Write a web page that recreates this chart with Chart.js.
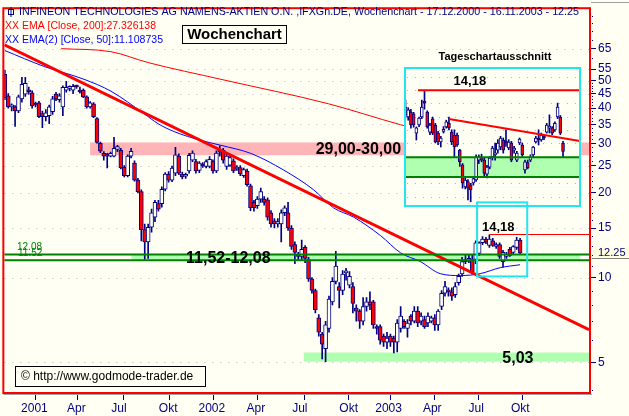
<!DOCTYPE html>
<html><head><meta charset="utf-8">
<script src="https://cdn.jsdelivr.net/npm/chart.js@4.4.0/dist/chart.umd.min.js"></script>
<style>
html,body{margin:0;padding:0;background:#FFFFF4;}
#wrap{position:relative;width:629px;height:416px;overflow:hidden;}
#main{position:absolute;left:0;top:0;}
#inset{position:absolute;left:404px;top:67px;}
</style></head><body>
<div id="wrap"><canvas id="main" width="629" height="416"></canvas><canvas id="inset" width="177" height="141"></canvas></div>
<script>
// ===== weekly candles (main chart), one per week from 17.12.2000 =====
const weekOpen = [52.7,44.2,40.4,40.4,39.1,43.1,44.8,46.0,45.3,41.1,
 41.7,38.2,37.3,37.6,38.8,44.8,42.8,40.4,46.3,47.0,
 46.3,47.8,46.3,46.3,43.8,40.4,41.4,36.7,30.0,27.6,
 27.2,27.0,27.0,28.5,28.3,24.7,23.0,27.0,25.5,22.2,
 20.2,14.8,13.4,15.1,16.4,18.3,18.3,20.6,23.3,22.2,
 23.5,27.0,23.3,22.9,23.9,26.1,25.8,24.0,25.2,24.8,
 24.8,25.8,23.9,28.3,28.3,24.8,25.1,26.0,24.3,24.6,
 23.0,23.9,21.2,18.5,18.0,19.0,19.0,18.9,17.0,15.9,
 15.5,15.5,17.0,17.0,15.0,13.1,12.1,11.9,12.8,11.6,
 9.9,9.0,7.2,6.3,5.6,6.6,8.2,9.7,9.3,9.0,
 10.4,9.4,9.3,7.8,7.6,7.0,7.9,8.2,8.2,6.7,
 6.7,6.2,5.9,6.2,6.1,5.9,6.6,7.0,6.6,7.3,
 7.0,7.6,7.0,7.1,6.9,7.0,7.2,6.8,7.9,8.8,
 9.0,8.9,8.7,9.6,10.3,11.4,11.5,11.6,11.6,12.2,
 13.3,13.7,13.0,13.5,12.9,13.1,11.4,11.9,12.6,12.3,
 12.8,13.6];
const weekHigh = [54.4,45.0,41.4,40.8,44.5,51.4,51.4,47.5,46.0,42.0,
 42.3,39.0,39.5,41.0,44.0,45.5,45.0,48.0,49.8,48.0,
 48.6,48.3,47.5,46.8,44.2,42.2,41.8,37.0,30.3,28.0,
 27.6,27.9,31.5,29.5,28.8,25.0,27.3,28.8,26.0,22.5,
 20.5,15.5,15.5,17.5,18.8,18.8,21.0,23.6,23.8,24.9,
 29.0,27.5,23.7,23.5,27.6,28.2,26.3,25.8,25.6,26.2,
 26.9,26.2,28.2,29.4,28.8,27.5,27.2,26.4,25.0,25.0,
 24.5,24.3,21.5,18.8,19.4,20.8,19.4,19.2,17.3,16.2,
 16.2,17.4,18.0,18.5,15.3,13.4,12.3,13.6,13.0,11.8,
 10.0,9.1,7.4,6.4,7.0,8.6,10.0,12.4,9.6,10.6,
 10.8,10.5,9.6,8.0,7.7,8.5,8.5,8.9,8.3,6.8,
 6.8,6.3,6.4,6.3,6.2,7.1,7.9,7.1,7.1,7.4,
 7.9,7.9,7.5,7.3,7.5,7.3,7.4,7.7,9.0,9.7,
 9.2,9.2,9.6,10.3,11.8,12.0,12.1,12.1,13.5,13.4,
 14.0,13.9,14.18,13.8,13.3,13.3,12.5,12.3,12.8,13.0,
 13.9,13.8];
const weekLow = [42.8,40.0,39.1,34.4,38.5,42.0,44.0,44.8,40.0,40.4,
 37.0,34.1,36.0,35.2,38.0,42.5,42.0,37.6,45.5,46.0,
 45.0,47.0,45.2,43.5,40.0,40.0,37.0,30.0,27.8,26.1,
 24.5,26.8,26.8,28.0,24.3,22.8,22.8,26.6,22.0,20.0,
 13.5,11.6,11.7,14.5,15.8,17.2,17.8,20.3,21.8,21.9,
 23.0,23.2,22.4,22.5,23.5,25.8,23.5,23.6,24.6,24.5,
 24.5,23.5,23.6,27.0,25.5,24.2,24.8,23.6,24.0,23.0,
 22.7,21.1,17.3,17.2,17.6,18.5,18.1,16.0,15.1,15.0,
 15.1,13.4,16.6,14.7,12.6,11.2,11.5,11.6,11.3,9.7,
 8.8,7.5,6.2,5.15,5.03,6.4,8.0,9.5,7.8,8.7,
 9.8,9.2,7.5,7.0,6.6,6.8,7.6,7.7,6.6,6.3,
 5.8,5.7,5.6,5.7,5.4,5.45,6.4,6.6,6.15,6.8,
 6.9,6.7,6.8,6.6,6.7,6.9,6.5,6.5,7.7,8.6,
 8.6,8.3,8.5,9.4,10.1,11.2,11.3,10.3,11.2,12.0,
 13.1,13.2,12.8,12.9,12.7,11.7,10.9,11.7,11.9,12.1,
 12.6,12.1];
const weekClose = [43.5,40.4,40.6,39.1,43.8,48.6,49.0,45.7,40.7,41.0,
 37.3,37.3,38.5,40.4,43.1,43.1,44.2,47.4,47.4,47.2,
 47.8,47.5,45.6,43.8,40.4,41.7,37.3,30.2,28.1,27.0,
 27.0,27.6,28.8,29.2,24.5,23.0,27.0,28.1,22.2,20.2,
 14.8,13.4,15.1,17.0,18.5,17.5,20.6,23.3,22.2,24.5,
 27.3,23.5,22.8,23.1,27.2,27.7,23.9,25.5,24.9,25.8,
 26.3,23.9,27.7,27.9,26.1,27.0,26.7,23.9,24.6,23.4,
 24.2,21.4,17.7,17.7,19.0,20.2,18.5,16.4,15.5,15.5,
 15.8,17.0,17.7,15.0,12.9,12.3,11.9,12.6,11.7,9.9,
 9.0,7.7,6.4,5.8,6.8,8.4,9.7,11.0,9.0,10.3,
 10.5,10.1,8.1,7.6,7.0,7.9,8.2,8.0,6.8,6.6,
 6.0,5.9,6.1,5.9,5.9,6.9,7.3,6.7,6.9,7.0,
 7.6,6.9,7.3,6.7,7.3,7.2,6.8,7.6,8.8,9.3,
 8.9,8.6,9.3,10.1,11.4,11.6,11.7,10.5,13.3,13.3,
 13.7,13.4,13.7,13.0,13.1,11.9,12.3,12.1,12.0,12.9,
 13.6,12.25];

// EMA 200 (red thin) and EMA 50 (blue) read at week positions
const ema200Week = [16.5, 31.1, 42, 63.3, 94.9, 116, 151];
const ema200Val  = [65.0, 63.4, 58.0, 50.6, 41.4, 34.9, 27.33];
const ema50Week  = [0, 11.5, 23.2, 31.1, 40.8, 44.9, 49.6, 57.5, 63.3, 72.1, 81.7, 90.5, 96.3, 102.2, 110.1, 116, 121.8, 127.6, 133.5, 139.3, 145.2, 151];
const ema50Val   = [64.0, 56.2, 50.6, 45.9, 38.2, 35.2, 33.0, 30.7, 29.5, 27.6, 24.1, 20.5, 17.7, 16.4, 14.1, 12.24, 11.4, 10.33, 10.17, 10.33, 10.85, 11.11];
// thick red downtrend line
const trendWeek = [-0.15, 171.2];
const trendVal  = [67.1, 6.53];

// zones: label, low, high, start week, end week
const zoneLabel = ['29,00-30,00', '11,52-12,08', '5,03'];
const zoneLow   = [27.2, 11.52, 5.03];
const zoneHigh  = [30.2, 12.08, 5.42];
const zoneStart = [25, 37.1, 87.6];
const zoneEnd   = [171.2, 168.6, 171.2];
const zoneTextWeek = [91.1, 53.1, 145.8];
const resistValue = 14.18, resistStart = 142, resistTextWeek = 144.6;
const zoomBoxWeeks = [138.4, 153.1], zoomBoxVals = [10.1, 18.5];

const yTickVals = [65, 55, 50, 45, 40, 35, 30, 25, 20, 15, 10, 5];
const yMinorVals = [4,6,7,8,9,11,12,13,14,16,17,18,19,21,22,23,24,26,27,28,29,31,32,33,34,36,37,38,39,41,42,43,44,46,47,48,49,60,70,75,80,85];
const quarterTickWeek = [2.8, 15.1, 27.6, 42, 54.8, 67.7, 80.6, 94.9, 106.6, 119.4, 132.3, 145.2];
const quarterLabels = ['2001','Apr','Jul','Okt','2002','Apr','Jul','Okt','2003','Apr','Jul','Okt'];

// ===== daily candles (inset "Tageschartausschnitt") =====
const dayOpen = [13.37,13.30,13.46,13.40,12.80,13.05,13.30,13.80,13.46,12.83,13.24,13.05,12.80,12.53,12.85,12.99,13.10,12.83,12.74,12.74,12.29,11.86,11.25,11.40,11.31,11.36,11.44,12.00,12.09,12.00,11.60,11.80,12.09,12.15,12.29,12.38,12.59,12.53,12.35,12.50,12.29,12.00,12.50,12.44,11.72,11.93,12.00,12.15,12.53,12.62,12.59,12.68,12.83,12.95,12.96,12.90,13.30,13.30,12.50];
const dayHigh = [13.85,13.60,13.55,13.45,12.99,13.30,13.85,14.18,13.50,13.10,13.30,13.10,12.85,12.70,13.00,13.20,13.30,12.90,12.90,12.80,12.31,11.90,11.50,11.45,11.35,11.50,12.15,12.15,12.17,12.05,11.85,12.10,12.40,12.50,12.60,12.70,12.65,12.90,12.60,12.55,12.40,12.25,12.65,12.50,12.00,12.00,12.15,12.40,12.70,12.90,12.80,12.75,13.10,13.37,13.00,13.15,13.75,13.35,12.55];
const dayLow = [13.27,13.20,12.95,12.98,12.59,13.00,13.25,13.55,12.95,12.75,12.75,12.50,12.45,12.38,12.80,12.95,12.90,12.45,12.09,12.40,11.82,11.22,11.20,10.91,10.86,11.30,11.40,11.90,11.95,11.55,11.50,11.75,12.00,12.00,12.20,12.30,12.20,12.40,12.30,11.95,12.20,11.95,12.45,12.10,11.63,11.75,11.95,12.10,12.50,12.44,12.55,12.60,12.80,12.80,12.75,12.85,13.25,12.75,12.09];
const dayClose = [13.62,13.53,13.05,13.05,12.96,13.27,13.62,13.75,12.99,13.05,12.80,12.53,12.53,12.65,12.90,13.15,12.96,12.53,12.38,12.44,11.95,11.36,11.44,11.22,11.17,11.48,12.09,12.09,12.00,11.63,11.80,12.06,12.35,12.20,12.50,12.65,12.29,12.50,12.53,12.00,12.33,12.20,12.62,12.15,11.95,11.78,12.09,12.38,12.65,12.59,12.74,12.65,13.05,13.00,12.80,13.10,13.62,12.80,12.25];
const dayLineIdx = [16.0, 64.2];
const dayLineVal = [13.24, 12.56];
const dayResistStart = 4.6;
const dayGridVals = [14.64, 14.19, 13.75, 13.31, 12.90, 12.49, 12.10, 11.72, 11.35, 10.99];

// ===== styles =====
const NAVY = '#000080', BG = '#FFFFF4', RED = '#FF0000', BLUE = '#0000FF';
const DKGREEN = '#008000', LTGREEN = '#B0FFB0', PINK = '#FFB4B8', CYAN = '#22E5F2';
const FONT = '"Liberation Sans", Arial, sans-serif';

function candleSets(O, H, L, C, bodyW) {
  return [
    {type:'bar', data:H.map((h,i)=>({x:i, y:[L[i], h]})), backgroundColor:NAVY, borderWidth:0,
     barThickness:1, grouped:false, order:5, minBarLength:1},
    {type:'bar', data:O.map((o,i)=>({x:i, y:[o, C[i]]})), backgroundColor:O.map((o,i)=>C[i] < o ? RED : BG),
     borderColor:NAVY, borderWidth:1, borderSkipped:false, barThickness:bodyW, grouped:false, order:4, minBarLength:2}
  ];
}
function pts(xs, ys) { return xs.map((x,i)=>({x, y:ys[i]})); }

const mainOverlay = {
  id:'mainOverlay',
  beforeDraw(c) {
    const ctx = c.ctx; ctx.save(); ctx.fillStyle = BG; ctx.fillRect(0,0,c.width,c.height); ctx.restore();
  },
  beforeDatasetsDraw(c) {
    const {ctx, chartArea:a, scales:{x, y}} = c;
    ctx.save();
    ctx.strokeStyle = '#B4B4B4'; ctx.lineWidth = 1; ctx.setLineDash([1,7]);
    yTickVals.forEach(v => { const py = Math.round(y.getPixelForValue(v)) + 0.5;
      ctx.beginPath(); ctx.moveTo(a.left, py); ctx.lineTo(a.right, py); ctx.stroke(); });
    ctx.setLineDash([]);
    zoneLabel.forEach((t,i) => {
      const x0 = x.getPixelForValue(zoneStart[i]), x1 = x.getPixelForValue(zoneEnd[i]);
      const y0 = y.getPixelForValue(zoneHigh[i]), y1 = y.getPixelForValue(zoneLow[i]);
      ctx.fillStyle = i === 0 ? PINK : LTGREEN;
      ctx.fillRect(x0, y0, x1 - x0, y1 - y0);
    });
    ctx.restore();
  },
  afterDatasetsDraw(c) {
    const {ctx, chartArea:a, scales:{x, y}} = c;
    ctx.save();
    // dark green edges of support zone 11,52-12,08
    ctx.strokeStyle = DKGREEN; ctx.lineWidth = 2;
    [zoneLow[1], zoneHigh[1]].forEach(v => { const py = y.getPixelForValue(v);
      ctx.beginPath(); ctx.moveTo(a.left, py); ctx.lineTo(a.right, py); ctx.stroke(); });
    // resistance 14,18
    ctx.strokeStyle = RED; ctx.lineWidth = 1;
    const ry = Math.round(y.getPixelForValue(resistValue)) - 0.5;
    ctx.beginPath(); ctx.moveTo(x.getPixelForValue(resistStart), ry); ctx.lineTo(a.right, ry); ctx.stroke();
    ctx.fillStyle = '#000'; ctx.font = 'bold 13px ' + FONT; ctx.textAlign = 'center'; ctx.textBaseline = 'bottom';
    ctx.fillText(resistValue.toFixed(2).replace('.', ','), x.getPixelForValue(resistTextWeek), ry - 1);
    // zone labels
    ctx.font = 'bold 16px ' + FONT; ctx.textAlign = 'left'; ctx.textBaseline = 'middle';
    zoneLabel.forEach((t,i) => {
      const ym = (y.getPixelForValue(zoneHigh[i]) + y.getPixelForValue(zoneLow[i])) / 2 + 1;
      ctx.fillText(t, x.getPixelForValue(zoneTextWeek[i]), ym);
    });
    // small green value labels at the left
    ctx.font = '10px ' + FONT; ctx.fillStyle = DKGREEN; ctx.textBaseline = 'bottom';
    ctx.fillText(zoneHigh[1].toFixed(2), 17, y.getPixelForValue(zoneHigh[1]) - 2);
    ctx.fillText(zoneLow[1].toFixed(2), 18, y.getPixelForValue(zoneLow[1]) - 2);
    // small cyan zoom box
    ctx.strokeStyle = CYAN; ctx.lineWidth = 2;
    const bx0 = x.getPixelForValue(zoomBoxWeeks[0]), bx1 = x.getPixelForValue(zoomBoxWeeks[1]);
    const by0 = y.getPixelForValue(zoomBoxVals[1]), by1 = y.getPixelForValue(zoomBoxVals[0]);
    ctx.strokeRect(bx0, by0, bx1 - bx0, by1 - by0);
    ctx.restore();
  },
  afterDraw(c) {
    const {ctx, chartArea:a, scales:{y}} = c;
    ctx.save();
    // minor ticks on the price axis
    ctx.fillStyle = NAVY;
    yMinorVals.forEach(v => { const py = Math.round(y.getPixelForValue(v)); ctx.fillRect(a.right + 3, py, 1, 1); });
    // red frame with grey shadow
    ctx.strokeStyle = '#A0A0A0'; ctx.lineWidth = 1;
    ctx.beginPath(); ctx.moveTo(a.left - 1, a.bottom + 2.5); ctx.lineTo(a.right + 3, a.bottom + 2.5); ctx.stroke();
    ctx.beginPath(); ctx.moveTo(a.right + 2, 2.5); ctx.lineTo(629, 2.5); ctx.stroke();
    ctx.strokeStyle = RED; ctx.lineWidth = 2;
    ctx.strokeRect(a.left - 1, a.top - 1, a.right - a.left + 2, a.bottom - a.top + 2);
    // last price marker
    const lastClose = weekClose[weekClose.length - 1];
    const ly = Math.round(y.getPixelForValue(lastClose));
    ctx.fillStyle = '#FFFFE0'; ctx.fillRect(594, ly - 6, 35, 11);
    ctx.strokeStyle = '#808080'; ctx.lineWidth = 1;
    ctx.beginPath(); ctx.moveTo(592, ly + 5.5); ctx.lineTo(629, ly + 5.5); ctx.stroke();
    ctx.fillStyle = NAVY; ctx.font = '11px ' + FONT; ctx.textAlign = 'left'; ctx.textBaseline = 'middle';
    ctx.fillText(lastClose.toFixed(2), 598, ly);
    // header texts
    ctx.strokeStyle = NAVY; ctx.lineWidth = 1;
    ctx.strokeRect(8.5, 9.5, 5, 5);
    ctx.beginPath(); ctx.moveTo(11, 7); ctx.lineTo(11, 17); ctx.stroke();
    ctx.font = '11px ' + FONT; ctx.fillStyle = NAVY; ctx.textBaseline = 'middle';
    ctx.fillText('INFINEON TECHNOLOGIES AG NAMENS-AKTIEN O.N. ,IFXGn.DE, Wochenchart - 17.12.2000 - 16.11.2003 - ' + lastClose.toFixed(2), 19, 12, 560);
    ctx.fillStyle = RED;
    ctx.fillText('XX EMA [Close, 200]:27.326138', 5, 26, 151);
    ctx.fillStyle = BLUE;
    ctx.fillText('XX EMA(2) [Close, 50]:11.108735', 5, 40, 158);
    // Wochenchart box
    ctx.fillStyle = BG; ctx.fillRect(182, 25, 105, 19);
    ctx.strokeStyle = '#000'; ctx.strokeRect(182.5, 25.5, 104, 18);
    ctx.fillStyle = '#000'; ctx.font = 'bold 15px ' + FONT; ctx.textAlign = 'center';
    ctx.fillText('Wochenchart', 234.5, 35);
    // inset caption
    ctx.font = 'bold 11px ' + FONT;
    ctx.fillText('Tageschartausschnitt', 495, 57);
    // copyright box
    ctx.fillStyle = BG; ctx.fillRect(15, 366, 191, 21);
    ctx.strokeRect(15.5, 366.5, 190, 20);
    ctx.fillStyle = '#000'; ctx.font = '12px ' + FONT; ctx.textAlign = 'left';
    ctx.fillText('\u00A9 http://www.godmode-trader.de', 21, 377);
    ctx.restore();
  }
};

const main = new Chart(document.getElementById('main'), {
  type:'bar',
  data:{datasets:[
    ...candleSets(weekOpen, weekHigh, weekLow, weekClose, 4),
    {type:'line', data:pts(ema200Week, ema200Val), borderColor:RED, borderWidth:1, pointRadius:0, cubicInterpolationMode:'monotone', order:2},
    {type:'line', data:pts(ema50Week, ema50Val), borderColor:BLUE, borderWidth:1, pointRadius:0, cubicInterpolationMode:'monotone', order:2},
    {type:'line', data:pts(trendWeek, trendVal), borderColor:RED, borderWidth:3, pointRadius:0, order:1}
  ]},
  options:{
    responsive:false, animation:false, events:[],
    layout:{padding:{left:3, top:4, right:0, bottom:0}},
    plugins:{legend:{display:false}, tooltip:{enabled:false}, title:{display:false}},
    scales:{
      x:{type:'linear', min:-0.15, max:171.2, offset:false, position:'bottom',
         afterBuildTicks:s => { s.ticks = quarterTickWeek.map(v => ({value:v})); },
         afterFit:s => { s.height = 24; },
         ticks:{autoSkip:false, maxRotation:0, color:NAVY, font:{family:FONT, size:12}, padding:1, labelOffset:20,
                callback:(v,i) => quarterLabels[i]},
         grid:{drawOnChartArea:false, drawTicks:true, tickLength:8, tickColor:NAVY, tickWidth:1},
         border:{display:false}},
      y:{type:'logarithmic', position:'right', min:3.926, max:89.74,
         afterBuildTicks:s => { s.ticks = yTickVals.map(v => ({value:v})); },
         afterFit:s => { s.width = 40; },
         ticks:{autoSkip:false, color:NAVY, font:{family:FONT, size:12}, padding:2, callback:v => String(v)},
         grid:{drawOnChartArea:false, drawTicks:true, tickLength:7, tickColor:NAVY},
         border:{display:false}}
    }
  },
  plugins:[mainOverlay]
});

const insetOverlay = {
  id:'insetOverlay',
  beforeDraw(c) {
    const ctx = c.ctx; ctx.save(); ctx.fillStyle = BG; ctx.fillRect(0,0,c.width,c.height); ctx.restore();
  },
  beforeDatasetsDraw(c) {
    const {ctx, chartArea:a, scales:{y}} = c;
    ctx.save();
    ctx.strokeStyle = '#B4B4B4'; ctx.lineWidth = 1; ctx.setLineDash([1,7]);
    dayGridVals.forEach(v => { const py = Math.round(y.getPixelForValue(v)) + 0.5;
      ctx.beginPath(); ctx.moveTo(a.left + 3, py); ctx.lineTo(a.right - 3, py); ctx.stroke(); });
    ctx.setLineDash([]);
    const y0 = y.getPixelForValue(zoneHigh[1]), y1 = y.getPixelForValue(zoneLow[1]);
    ctx.fillStyle = LTGREEN; ctx.fillRect(a.left + 1, y0, a.right - a.left - 2, y1 - y0);
    ctx.restore();
  },
  afterDatasetsDraw(c) {
    const {ctx, chartArea:a, scales:{x, y}} = c;
    ctx.save();
    ctx.strokeStyle = DKGREEN; ctx.lineWidth = 2;
    [zoneLow[1], zoneHigh[1]].forEach(v => { const py = y.getPixelForValue(v);
      ctx.beginPath(); ctx.moveTo(a.left + 1, py); ctx.lineTo(a.right - 1, py); ctx.stroke(); });
    ctx.strokeStyle = RED; ctx.lineWidth = 2;
    const ry = y.getPixelForValue(resistValue);
    ctx.beginPath(); ctx.moveTo(x.getPixelForValue(dayResistStart), ry); ctx.lineTo(a.right, ry); ctx.stroke();
    ctx.fillStyle = '#000'; ctx.font = 'bold 13px ' + FONT; ctx.textAlign = 'center'; ctx.textBaseline = 'bottom';
    ctx.fillText(resistValue.toFixed(2).replace('.', ','), x.getPixelForValue(23.7), ry - 2);
    ctx.restore();
  },
  afterDraw(c) {
    const ctx = c.ctx;
    ctx.save();
    ctx.strokeStyle = CYAN; ctx.lineWidth = 2;
    ctx.strokeRect(1, 1, 175, 138);
    // the part of the small zoom box that lies over the inset
    const mx = main.scales.x, my = main.scales.y;
    const bx0 = mx.getPixelForValue(zoomBoxWeeks[0]) - 404, bx1 = mx.getPixelForValue(zoomBoxWeeks[1]) - 404;
    const by0 = my.getPixelForValue(zoomBoxVals[1]) - 67, by1 = my.getPixelForValue(zoomBoxVals[0]) - 67;
    ctx.strokeRect(bx0, by0, bx1 - bx0, by1 - by0);
    ctx.restore();
  }
};

new Chart(document.getElementById('inset'), {
  type:'bar',
  data:{datasets:[
    ...candleSets(dayOpen, dayHigh, dayLow, dayClose, 3),
    {type:'line', data:pts(dayLineIdx, dayLineVal), borderColor:RED, borderWidth:2, pointRadius:0, order:1}
  ]},
  options:{
    responsive:false, animation:false, events:[],
    layout:{padding:0},
    plugins:{legend:{display:false}, tooltip:{enabled:false}, title:{display:false}},
    scales:{
      x:{type:'linear', display:false, min:-0.55, max:64.62, offset:false},
      y:{type:'logarithmic', display:false, min:10.70, max:14.99}
    }
  },
  plugins:[insetOverlay]
});
</script>
</body></html>
